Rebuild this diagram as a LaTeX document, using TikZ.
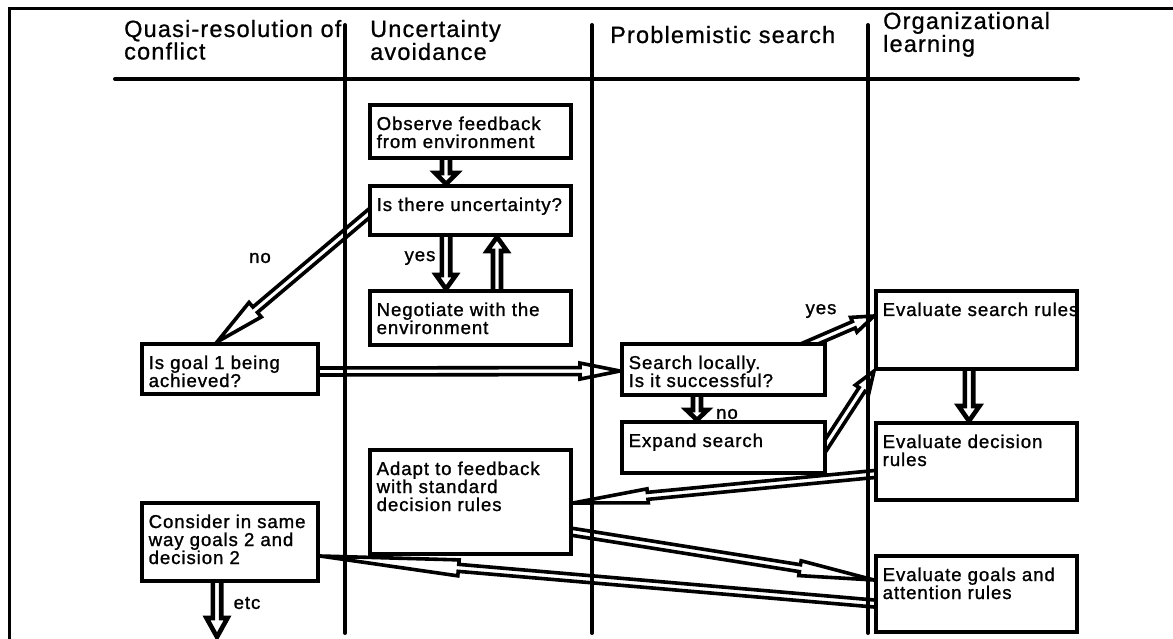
\documentclass[tikz,border=0pt]{standalone}
\usepackage{fontspec}
\setmainfont{Liberation Sans}[LetterSpace=5]
\usetikzlibrary{calc}
\pgfdeclarelayer{back}
\pgfsetlayers{back,main}

\newcommand{\boxfont}{\fontsize{18.6}{18}\selectfont\addfontfeature{FakeBold=1.2}}
\newcommand{\headfont}{\fontsize{23.5}{19}\selectfont\addfontfeature{FakeBold=0.8}}

% hollow block arrow: #2 tail, #3 tip, #4 shaft half-width, #5 head half-width, #6 head length
\newcommand{\flowarrow}[6][]{%
  \coordinate (hb) at ($(#3)!#6!(#2)$);
  \draw[barr,#1] ($(#2)!#4!90:(#3)$) -- ($(hb)!#4!90:(#3)$) -- ($(hb)!#5!90:(#3)$)
    -- (#3) -- ($(hb)!#5!-90:(#3)$) -- ($(hb)!#4!-90:(#3)$) -- ($(#2)!#4!-90:(#3)$) -- cycle;}

\tikzset{
  box/.style={draw, line width=4pt, fill=white, inner sep=0pt, anchor=north west},
  txt/.style={anchor=base west, inner sep=0pt},
  lab/.style={inner sep=0pt, font=\boxfont},
  head/.style={anchor=base west, inner sep=0pt},
  lane/.style={line width=4pt, line cap=round},
  barr/.style={draw, fill=white, line width=3.6pt, line join=miter, miter limit=6},
  small/.style={line width=4.6pt}
}

\newcommand{\boxtext}[1]{\parbox[t]{300pt}{\raggedright\boxfont #1}}

\begin{document}
\begin{tikzpicture}[x=1pt,y=-1pt]
\useasboundingbox (0,0) rectangle (1173,639);

% frame and swim lanes
\draw[line width=3pt] (8,8.5) -- (1173,8.5);
\draw[line width=3pt] (9.5,8) -- (9.5,639);
\draw[lane] (115,79) -- (1078,79);
\draw[lane] (345,25) -- (345,633);
\draw[lane] (592,25) -- (592,633);
\draw[lane] (868,25) -- (868,633);

% lane headings
\node[head] (h1) at (124,37) {\parbox[t]{300pt}{\headfont Quasi-resolution of\\conflict}};
\node[head] (h2) at (370,37) {\parbox[t]{300pt}{\headfont Uncertainty\\avoidance}};
\node[head] (h3) at (610,43) {\parbox[t]{300pt}{\headfont Problemistic search}};
\node[head] (h4) at (883,29) {\parbox[t]{300pt}{\headfont Organizational\\learning}};

% process boxes
\node[box, minimum width=201pt, minimum height=53pt] (obs) at (368,103) {};
\node[box, minimum width=201pt, minimum height=49pt] (ist) at (368,184) {};
\node[box, minimum width=201pt, minimum height=54pt] (neg) at (368,289) {};
\node[box, minimum width=176pt, minimum height=50pt] (goal) at (140,342) {};
\node[box, minimum width=203pt, minimum height=51pt] (sl) at (620,342) {};
\node[box, minimum width=203pt, minimum height=51pt] (exp) at (620,420) {};
\node[box, minimum width=201pt, minimum height=78pt] (esr) at (874,289) {};
\node[box, minimum width=201pt, minimum height=77pt] (edr) at (874,421) {};
\node[box, minimum width=201pt, minimum height=104pt] (adapt) at (368,448) {};
\node[box, minimum width=176pt, minimum height=78pt] (cons) at (140,501) {};
\node[box, minimum width=201pt, minimum height=76pt] (egr) at (874,554) {};

% box texts
\node[txt] (obs-t) at ($(obs.north west)+(8.5,27)$) {\boxtext{Observe feedback\\from environment}};
\node[txt] (ist-t) at ($(ist.north west)+(8.5,27)$) {\boxtext{Is there uncertainty?}};
\node[txt] (neg-t) at ($(neg.north west)+(8.5,27)$) {\boxtext{Negotiate with the\\environment}};
\node[txt] (goal-t) at ($(goal.north west)+(8.5,27)$) {\boxtext{Is goal 1 being\\achieved?}};
\node[txt] (sl-t) at ($(sl.north west)+(8.5,27)$) {\boxtext{Search locally.\\Is it successful?}};
\node[txt] (exp-t) at ($(exp.north west)+(8.5,27)$) {\boxtext{Expand search}};
\node[txt] (esr-t) at ($(esr.north west)+(8.5,27)$) {\boxtext{Evaluate search rules}};
\node[txt] (edr-t) at ($(edr.north west)+(8.5,27)$) {\boxtext{Evaluate decision\\rules}};
\node[txt] (adapt-t) at ($(adapt.north west)+(8.5,27)$) {\boxtext{Adapt to feedback\\with standard\\decision rules}};
\node[txt] (cons-t) at ($(cons.north west)+(8.5,27)$) {\boxtext{Consider in same\\way goals 2 and\\decision 2}};
\node[txt] (egr-t) at ($(egr.north west)+(8.5,27)$) {\boxtext{Evaluate goals and\\attention rules}};

% connector end points
\coordinate (a1s) at ($(obs.south west)+(78,-3)$);
\coordinate (a1e) at ($(ist.north west)+(78,0)$);
\coordinate (a2s) at ($(ist.west)+(8,-3)$);
\coordinate (a2e) at ($(goal.north west)+(77,0)$);
\coordinate (a3s) at ($(goal.east)+(-5,2.5)$);
\coordinate (a3e) at ($(sl.west)+(0,1.5)$);
\coordinate (a4s) at ($(ist.south west)+(78,-3)$);
\coordinate (a4e) at ($(neg.north west)+(78,0)$);
\coordinate (a5s) at ($(neg.north west)+(129,3)$);
\coordinate (a5e) at ($(ist.south west)+(129,0)$);
\coordinate (a6s) at ($(sl.south west)+(77,-3)$);
\coordinate (a6e) at ($(exp.north west)+(77,0)$);
\coordinate (a7s) at ($(sl.north east)+(-27,6)$);
\coordinate (a7e) at ($(esr.north west)+(0,27)$);
\coordinate (a8s) at ($(exp.east)+(-6,5)$);
\coordinate (a8e) at (esr.south west);
\coordinate (a9s) at ($(esr.south west)+(95,-3)$);
\coordinate (a9e) at ($(edr.north west)+(95,0)$);
\coordinate (a10s) at ($(edr.west)+(6,12)$);
\coordinate (a10e) at ($(adapt.east)+(0,1)$);
\coordinate (a11s) at ($(adapt.east)+(-6,29)$);
\coordinate (a11e) at ($(egr.west)+(0,-14)$);
\coordinate (a12s) at ($(egr.west)+(6,10)$);
\coordinate (a12e) at ($(cons.east)+(0,14)$);
\coordinate (a13s) at ($(cons.south west)+(77,-3)$);
\coordinate (a13e) at ($(cons.south west)+(77,54)$);

\begin{pgfonlayer}{back}
  \flowarrow[small]{a1s}{a1e}{4pt}{11pt}{11pt}
  \flowarrow{a2s}{a2e}{3.5pt}{9.5pt}{50pt}
  \flowarrow{a3s}{a3e}{3.5pt}{8pt}{40pt}
  \flowarrow[small]{a4s}{a4e}{4.2pt}{10pt}{14pt}
  \flowarrow[small]{a5s}{a5e}{4pt}{10pt}{14pt}
  \flowarrow[small]{a6s}{a6e}{4pt}{10.5pt}{10pt}
  \flowarrow{a7s}{a7e}{3.5pt}{8pt}{22pt}
  \flowarrow{a8s}{a8e}{3.5pt}{8pt}{22pt}
  \flowarrow[small]{a9s}{a9e}{4.2pt}{10.5pt}{15pt}
  \flowarrow{a10s}{a10e}{3.5pt}{7pt}{75pt}
  \flowarrow{a11s}{a11e}{3.5pt}{7.5pt}{75pt}
  \flowarrow{a12s}{a12e}{3.5pt}{8pt}{139pt}
  \flowarrow[small]{a13s}{a13e}{4.2pt}{10.5pt}{19pt}
  % connector labels
  \node[lab] (l-no1) at (260,258) {no};
  \node[lab] (l-yes1) at (420,258) {yes};
  \node[lab] (l-yes2) at (821,311) {yes};
  \node[lab] (l-no2) at (727,414) {no};
  \node[lab] (l-etc) at (247,603) {etc};
\end{pgfonlayer}
\end{tikzpicture}
\end{document}
